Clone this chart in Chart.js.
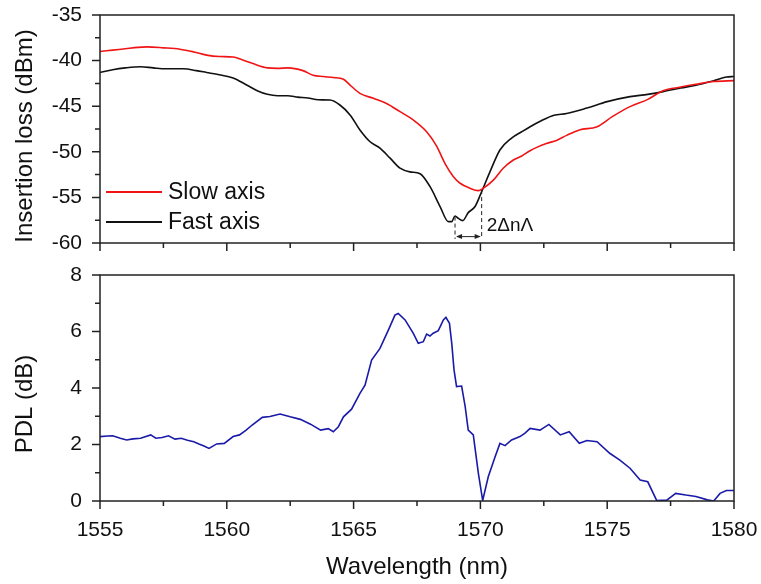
<!DOCTYPE html>
<html><head><meta charset="utf-8">
<script src="https://cdn.jsdelivr.net/npm/chart.js@4"></script>
<style>
html,body{margin:0;padding:0;background:#fff;}
#wrap{position:relative;width:761px;height:584px;overflow:hidden;}
canvas{position:absolute;left:0;}
</style>
</head><body>
<div id="wrap">
<canvas id="topChart" width="761" height="258" style="top:0"></canvas>
<canvas id="botChart" width="761" height="326" style="top:258px"></canvas>
</div>
<script>
// ---------- data ----------
const slowWl = [1555.0,1555.5,1556.0,1556.5,1556.85,1557.5,1558.15,1558.7,1559.2,1559.7,1560.25,1560.6,1561.0,1561.6,1562.0,1562.4,1563.0,1563.4,1563.8,1564.2,1564.6,1564.86,1565.25,1565.78,1566.3,1566.83,1567.35,1567.88,1568.28,1568.6,1568.93,1569.2,1569.59,1569.92,1570.11,1570.51,1570.9,1571.3,1571.63,1571.96,1572.6,1573.0,1573.4,1573.9,1574.6,1575.2,1575.9,1576.6,1577.2,1577.9,1578.5,1579.2,1580.0];
const slowIL = [-39.0,-38.85,-38.7,-38.55,-38.5,-38.6,-38.75,-39.05,-39.4,-39.55,-39.6,-39.9,-40.3,-40.8,-40.85,-40.8,-41.1,-41.6,-41.75,-41.85,-42.05,-42.68,-43.59,-44.14,-44.7,-45.6,-46.5,-47.8,-49.4,-51.26,-52.7,-53.45,-54.0,-54.26,-54.0,-53.1,-51.8,-50.9,-50.46,-49.88,-49.1,-48.75,-48.2,-47.6,-47.25,-46.15,-45.05,-44.25,-43.3,-42.9,-42.6,-42.3,-42.2];

const fastWl = [1555.0,1555.5,1556.0,1556.6,1557.1,1557.6,1558.3,1558.8,1559.2,1559.7,1560.25,1560.8,1561.2,1561.6,1562.0,1562.4,1562.8,1563.2,1563.6,1564.07,1564.46,1564.86,1565.25,1565.65,1566.04,1566.44,1566.83,1567.22,1567.62,1568.01,1568.41,1568.74,1568.87,1569.0,1569.13,1569.3,1569.52,1569.79,1570.05,1570.38,1570.77,1571.23,1571.63,1571.96,1572.4,1572.9,1573.4,1574.2,1575.0,1575.9,1576.6,1577.2,1577.9,1578.5,1579.2,1579.7,1580.0];
const fastIL = [-41.3,-41.0,-40.8,-40.67,-40.8,-40.9,-40.9,-41.1,-41.3,-41.55,-41.9,-42.7,-43.3,-43.7,-43.85,-43.85,-44.0,-44.1,-44.3,-44.32,-44.87,-45.96,-47.6,-48.9,-49.6,-50.7,-51.8,-52.2,-52.4,-53.8,-56.0,-57.66,-57.66,-57.04,-57.3,-57.55,-56.67,-56.0,-54.37,-52.18,-49.8,-48.5,-47.8,-47.25,-46.6,-46.0,-45.8,-45.2,-44.5,-43.95,-43.7,-43.4,-43.0,-42.7,-42.2,-41.8,-41.75];

const pdlWl = [1555.0,1555.3,1555.5,1555.8,1556.05,1556.3,1556.6,1557.0,1557.2,1557.45,1557.7,1557.96,1558.2,1558.45,1558.7,1558.9,1559.1,1559.3,1559.6,1559.9,1560.25,1560.5,1560.75,1561.0,1561.4,1561.7,1562.1,1562.5,1562.9,1563.3,1563.7,1564.0,1564.2,1564.4,1564.6,1564.92,1565.25,1565.45,1565.71,1566.04,1566.37,1566.63,1566.76,1567.03,1567.35,1567.55,1567.75,1567.88,1568.01,1568.14,1568.34,1568.54,1568.64,1568.78,1568.87,1568.96,1569.06,1569.26,1569.4,1569.52,1569.72,1569.92,1570.09,1570.31,1570.58,1570.77,1570.97,1571.23,1571.56,1571.76,1571.96,1572.35,1572.7,1573.15,1573.5,1573.9,1574.2,1574.6,1575.1,1575.5,1575.9,1576.3,1576.6,1576.95,1577.35,1577.7,1578.1,1578.5,1578.95,1579.2,1579.45,1579.7,1580.0];
const pdlDB = [2.28,2.3,2.31,2.22,2.16,2.2,2.22,2.34,2.22,2.25,2.31,2.19,2.22,2.15,2.1,2.02,1.95,1.86,2.02,2.04,2.28,2.34,2.5,2.69,2.96,2.99,3.08,2.98,2.89,2.72,2.51,2.56,2.45,2.63,2.98,3.25,3.81,4.1,4.99,5.4,6.05,6.58,6.64,6.41,5.94,5.58,5.64,5.91,5.84,5.94,6.03,6.41,6.5,6.29,5.58,4.64,4.05,4.07,3.34,2.51,2.34,0.98,0.02,0.86,1.57,2.04,1.96,2.16,2.28,2.4,2.57,2.51,2.71,2.34,2.45,2.04,2.14,2.1,1.69,1.45,1.16,0.74,0.68,0.02,0.03,0.27,0.21,0.16,0.04,0.0,0.27,0.37,0.37];

const seriesNames = ['Slow axis', 'Fast axis', 'PDL'];
const xTitle = 'Wavelength (nm)';
const yTitleTop = 'Insertion loss (dBm)';
const yTitleBot = 'PDL (dB)';

// annotation (data space): dip positions of the two axes
const splitWl = [1569.0, 1570.05];
const splitTopIL = [-57.1, -54.2];
const splitArrowIL = -59.3;
const splitTextIL = -58.1;
const splitLabel = '2\u0394n\u039B';

// ---------- helpers ----------
const FONT = 'Arial, "Liberation Sans", Helvetica, sans-serif';
const pts = (xs, ys) => xs.map((x, i) => ({x, y: ys[i]}));

function makeFrameTicks(xMajor, yMajor) {
  return {
    id: 'frameTicks',
    afterDraw(chart) {
      const {ctx, chartArea: a} = chart;
      ctx.save();
      ctx.strokeStyle = '#222';
      ctx.lineWidth = 1.5;
      ctx.strokeRect(a.left, a.top, a.right - a.left, a.bottom - a.top);
      const xs = chart.scales.x, ys = chart.scales.y;
      ctx.beginPath();
      xs.ticks.forEach(t => {
        const p = xs.getPixelForValue(t.value);
        const major = Math.abs(t.value / xMajor - Math.round(t.value / xMajor)) < 1e-6;
        ctx.moveTo(p, a.bottom); ctx.lineTo(p, a.bottom + (major ? 8 : 5));
      });
      ys.ticks.forEach(t => {
        const p = ys.getPixelForValue(t.value);
        const major = Math.abs(t.value / yMajor - Math.round(t.value / yMajor)) < 1e-6;
        ctx.moveTo(a.left, p); ctx.lineTo(a.left - (major ? 8 : 5), p);
      });
      ctx.stroke();
      ctx.restore();
    }
  };
}

function makeYTitle(text, shift) {
  return {
    id: 'yTitle',
    afterDraw(chart) {
      const {ctx, chartArea: a} = chart;
      ctx.save();
      ctx.translate(25, (a.top + a.bottom) / 2 + shift);
      ctx.rotate(-Math.PI / 2);
      ctx.font = '24px ' + FONT;
      ctx.fillStyle = '#111';
      ctx.textAlign = 'center';
      ctx.textBaseline = 'middle';
      ctx.fillText(text, 0, 0);
      ctx.restore();
    }
  };
}

const legendPlugin = {
  id: 'insetLegend',
  afterDatasetsDraw(chart) {
    const {ctx, chartArea: a} = chart;
    ctx.save();
    ctx.font = '23px ' + FONT;
    ctx.textBaseline = 'middle';
    ctx.textAlign = 'left';
    chart.data.datasets.forEach((ds, i) => {
      const y = a.bottom - 51 + i * 30;
      ctx.strokeStyle = ds.borderColor;
      ctx.lineWidth = 1.8;
      ctx.beginPath(); ctx.moveTo(a.left + 6, y); ctx.lineTo(a.left + 62, y); ctx.stroke();
      ctx.fillStyle = '#111';
      ctx.fillText(ds.label, a.left + 68, y + 1);
    });
    ctx.restore();
  }
};

const splitPlugin = {
  id: 'splitMark',
  afterDatasetsDraw(chart) {
    const {ctx} = chart;
    const xs = chart.scales.x, ys = chart.scales.y;
    const x0 = xs.getPixelForValue(splitWl[0]), x1 = xs.getPixelForValue(splitWl[1]);
    const yb = ys.getPixelForValue(-60) - 4;
    ctx.save();
    ctx.strokeStyle = '#222';
    ctx.lineWidth = 1;
    ctx.setLineDash([4, 3]);
    ctx.beginPath();
    ctx.moveTo(x0, ys.getPixelForValue(splitTopIL[0])); ctx.lineTo(x0, yb);
    ctx.moveTo(x1, ys.getPixelForValue(splitTopIL[1])); ctx.lineTo(x1, yb);
    ctx.stroke();
    ctx.setLineDash([]);
    const ya = ys.getPixelForValue(splitArrowIL);
    ctx.beginPath(); ctx.moveTo(x0 + 2, ya); ctx.lineTo(x1 - 2, ya); ctx.stroke();
    ctx.fillStyle = '#222';
    ctx.beginPath();
    ctx.moveTo(x0 + 1, ya); ctx.lineTo(x0 + 7, ya - 2.5); ctx.lineTo(x0 + 7, ya + 2.5); ctx.closePath();
    ctx.moveTo(x1 - 1, ya); ctx.lineTo(x1 - 7, ya - 2.5); ctx.lineTo(x1 - 7, ya + 2.5); ctx.closePath();
    ctx.fill();
    ctx.font = '19px ' + FONT;
    ctx.fillStyle = '#111';
    ctx.textBaseline = 'middle';
    ctx.textAlign = 'left';
    ctx.fillText(splitLabel, x1 + 5, ys.getPixelForValue(splitTextIL));
    ctx.restore();
  }
};

function zeroPad(s) { s.paddingTop = 0; s.paddingBottom = 0; s.paddingLeft = 0; s.paddingRight = 0; }

function xScale(showLabels, height) {
  return {
    type: 'linear', min: 1555, max: 1580,
    grid: {display: false, drawTicks: false},
    border: {display: false},
    ticks: {
      display: showLabels, stepSize: 2.5, autoSkip: false, maxRotation: 0,
      padding: 17, color: '#111', font: {family: FONT, size: 21},
      callback: v => (Math.abs(v % 5) < 1e-6 ? String(v) : '')
    },
    title: {display: showLabels, text: xTitle, color: '#111', font: {family: FONT, size: 24}, padding: {top: 0, bottom: 2}},
    afterFit: s => { s.height = height; zeroPad(s); }
  };
}
function yScale(min, max, step, major) {
  return {
    type: 'linear', min, max,
    grid: {display: false, drawTicks: false},
    border: {display: false},
    ticks: {
      stepSize: step, autoSkip: false, padding: 18, color: '#111',
      font: {family: FONT, size: 21},
      callback: v => (Math.abs(v / major - Math.round(v / major)) < 1e-6 ? String(v) : '')
    },
    title: {display: false},
    afterFit: s => { s.width = 100; zeroPad(s); }
  };
}

const common = {
  responsive: false, animation: false, devicePixelRatio: 1,
  plugins: {legend: {display: false}, tooltip: {enabled: false}},
  elements: {point: {radius: 0}, line: {tension: 0, borderWidth: 1.6}}
};

new Chart(document.getElementById('topChart'), {
  type: 'line',
  data: {datasets: [
    {label: seriesNames[0], data: pts(slowWl, slowIL), borderColor: '#f01414', fill: false, cubicInterpolationMode: 'monotone'},
    {label: seriesNames[1], data: pts(fastWl, fastIL), borderColor: '#111111', fill: false, cubicInterpolationMode: 'monotone'}
  ]},
  options: Object.assign({}, common, {
    layout: {padding: {left: 0, right: 27, top: 15, bottom: 0}},
    scales: {x: xScale(false, 15), y: yScale(-60, -35, 2.5, 5)}
  }),
  plugins: [makeFrameTicks(5, 5), makeYTitle(yTitleTop, 7), legendPlugin, splitPlugin]
});

new Chart(document.getElementById('botChart'), {
  type: 'line',
  data: {datasets: [
    {label: seriesNames[2], data: pts(pdlWl, pdlDB), borderColor: '#1a1aa8', fill: false}
  ]},
  options: Object.assign({}, common, {
    layout: {padding: {left: 0, right: 27, top: 17, bottom: 0}},
    scales: {x: xScale(true, 83), y: yScale(0, 8, 1, 2)}
  }),
  plugins: [makeFrameTicks(5, 2), makeYTitle(yTitleBot, 16)]
});
</script>
</body></html>
